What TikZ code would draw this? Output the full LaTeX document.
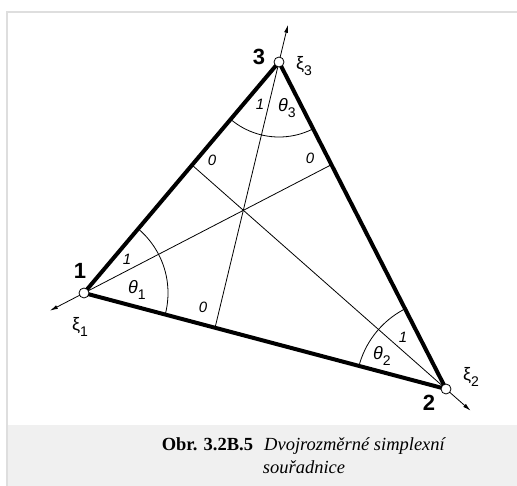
\documentclass[tikz,border=0pt]{standalone}
\usepackage{fontspec}
\setmainfont{Liberation Serif}
\newfontfamily\diagfont{Liberation Sans}
\usetikzlibrary{calc,arrows.meta}

\definecolor{framegray}{RGB}{222,222,222}
\definecolor{capgray}{RGB}{240,240,240}
\newcommand\lowidx[1]{\raisebox{-0.55ex}{\upshape\fontsize{14}{14}\selectfont#1}}

\tikzset{
  side/.style={line width=4pt},
  ray/.style={line width=0.8pt},
  axis/.style={ray,-{Latex[length=8pt,width=4pt]}},
  vertex/.style={circle,draw,line width=0.8pt,fill=white,inner sep=0pt,minimum size=10pt},
  vlabel/.style={font=\diagfont\bfseries\fontsize{22}{22}\selectfont,inner sep=0pt},
  small/.style={font=\diagfont\itshape\fontsize{15}{15}\selectfont,inner sep=0pt},
  anglab/.style={font=\diagfont\itshape\fontsize{18}{18}\selectfont,inner sep=0pt},
  axlab/.style={font=\diagfont\fontsize{18}{18}\selectfont,inner sep=0pt}
}

\begin{document}
\begin{tikzpicture}[x=1pt,y=-1pt]
\useasboundingbox (0,0) rectangle (517,486);
\fill[white] (0,0) rectangle (517,486);
\fill[capgray] (7,425) rectangle (517,486);
\draw[framegray,line width=2pt] (7,486) -- (7,12) -- (517,12);

\coordinate (p1) at (84,293);
\coordinate (p2) at (446,389);
\coordinate (p3) at (279,62);
% feet of the three lines through the common point
\coordinate (f3) at ($(p1)!0.362!(p2)$);
\coordinate (f1) at ($(p2)!0.686!(p3)$);
\coordinate (f2) at ($(p1)!0.554!(p3)$);
% ends of the xi axes
\coordinate (a1) at ($(f1)!1.138!(p1)$);
\coordinate (a2) at ($(f2)!1.097!(p2)$);
\coordinate (a3) at ($(f3)!1.14!(p3)$);

\foreach \i in {1,2,3} {
    \draw[ray] (p\i) -- (f\i);
    \draw[axis] (p\i) -- (a\i);
}

% angle arcs
\begin{scope}
\clip (p1) -- (p2) -- (p3) -- cycle;
\foreach \i/\r in {1/84,2/90,3/75}
    \draw[ray] (p\i) circle[radius=\r];
\end{scope}

\draw[side] (p1) -- (p2) -- (p3) -- cycle;
\foreach \i in {1,2,3}
    \node[vertex] (v\i) at (p\i) {};

\node[vlabel] (n1) at (80,271) {1};
\node[vlabel] (n2) at (429,403) {2};
\node[vlabel] (n3) at (259,57) {3};
\node[axlab] (x1) at (80,327) {ξ\lowidx{1}};
\node[axlab] (x2) at (471,377) {ξ\lowidx{2}};
\node[axlab] (x3) at (304,66) {ξ\lowidx{3}};
\node[anglab] (t1) at (137,290) {θ\lowidx{1}};
\node[anglab] (t2) at (382,356) {θ\lowidx{2}};
\node[anglab] (t3) at (287,108) {θ\lowidx{3}};
\foreach \n/\x/\y/\t in {u1/127/259/1,u2/403/337/1,u3/260/104/1,z3/203/307/0,z2/212/160/0,z1/310/158/0}
    \node[small] (\n) at (\x,\y) {\t};

\node[font=\fontsize{18.5}{23}\selectfont,align=center] (cap) at (304,456)
    {\textbf{Obr. 3.2B.5}\hspace{0.6em}\textit{Dvojrozměrné simplexní}\\\textit{souřadnice}};
\end{tikzpicture}
\end{document}
